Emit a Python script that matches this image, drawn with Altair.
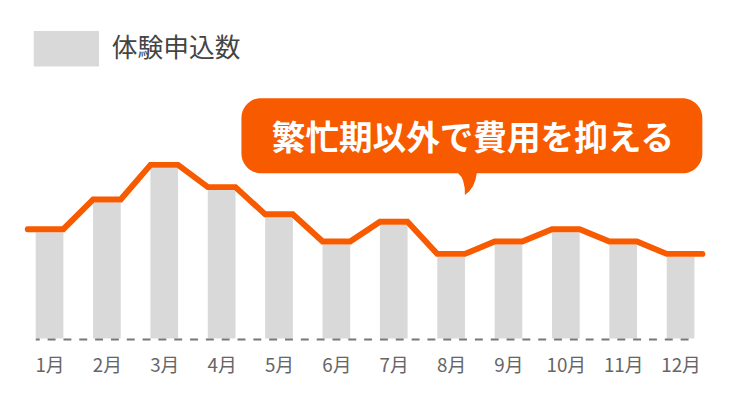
import altair as alt
import pandas as pd

# ---- data ----
months = [1, 2, 3, 4, 5, 6, 7, 8, 9, 10, 11, 12]
month_labels = ["1月", "2月", "3月", "4月", "5月", "6月", "7月", "8月", "9月", "10月", "11月", "12月"]
values = [43, 55, 69, 60, 49, 38, 46, 33, 38, 43, 38, 33]
series_name = "体験申込数"
callout_text = "繁忙期以外で費用を抑える"

FONT = "Noto Sans CJK JP"
ORANGE = "#F85A00"
GRAY_BAR = "#D9D9D9"

BAR_HALF = 0.24   # half bar width in month units
LEAD = 0.14       # line extension beyond first/last bar

bars_df = pd.DataFrame({"month": months, "value": values,
                        "series": [series_name] * len(months)})

pts = []
n = len(months)
for i, (m, v) in enumerate(zip(months, values)):
    left = m - BAR_HALF - (LEAD if i == 0 else 0)
    right = m + BAR_HALF + (LEAD if i == n - 1 else 0)
    pts.append({"order": 2 * i, "x": left, "value": v})
    pts.append({"order": 2 * i + 1, "x": right, "value": v})
line_df = pd.DataFrame(pts)

base_df = pd.DataFrame({"x0": [months[0] - BAR_HALF], "x1": [months[-1] + BAR_HALF], "y": [0]})

xscale = alt.Scale(domain=[0.5, 12.5], nice=False, zero=False, padding=0)
yscale = alt.Scale(domain=[0, 132.8], nice=False, zero=True, padding=0)

label_expr = "[" + ",".join(f"'{l}'" for l in month_labels) + "][datum.value - 1]"
xaxis = alt.Axis(values=months, labelExpr=label_expr, domain=False, ticks=False, grid=False,
                 labelPadding=18, labelFontSize=19, labelColor="#666666", labelFont=FONT,
                 title=None)

LEGEND_SYMBOL = "M-1,-0.545H1V0.545H-1Z"

bars = alt.Chart(bars_df).mark_bar(size=28).encode(
    x=alt.X("month:Q", scale=xscale, axis=xaxis),
    y=alt.Y("value:Q", scale=yscale, axis=None),
    color=alt.Color("series:N", scale=alt.Scale(range=[GRAY_BAR]),
                    legend=alt.Legend(orient="none", legendX=13, legendY=6, title=None,
                                      symbolType=LEGEND_SYMBOL, symbolSize=4356,
                                      symbolStrokeWidth=0, symbolOpacity=1,
                                      labelFontSize=26, labelColor="#444444", labelFont=FONT,
                                      labelOffset=13, padding=0)),
)

baseline = alt.Chart(base_df).mark_rule(color="#777777", strokeWidth=2, strokeDash=[8, 8],
                                        strokeDashOffset=4, yOffset=1).encode(
    x=alt.X("x0:Q", scale=xscale, axis=xaxis),
    x2="x1:Q",
    y=alt.Y("y:Q", scale=yscale, axis=None),
)

line = alt.Chart(line_df).mark_line(color=ORANGE, strokeWidth=6, strokeCap="round",
                                    yOffset=-3).encode(
    x=alt.X("x:Q", scale=xscale, axis=xaxis),
    y=alt.Y("value:Q", scale=yscale, axis=None),
    order="order:Q",
)

callout_df = pd.DataFrame({"t": [callout_text]})

TAIL = "M-0.86,-1.4L0.86,-1.4L0.86,-1Q0.7,0.4,-0.23,1Q-0.2,-0.5,-0.86,-1Z"
tail = alt.Chart(callout_df).mark_point(shape=TAIL, size=484, filled=True, color=ORANGE,
                                        opacity=1, strokeWidth=0).encode(
    x=alt.value(451.5), y=alt.value(176))

bubble = alt.Chart(callout_df).mark_rect(cornerRadius=20, color=ORANGE).encode(
    x=alt.value(223), x2=alt.value(689), y=alt.value(89), y2=alt.value(165))

bubble_text = alt.Chart(callout_df).mark_text(font=FONT, fontSize=34, fontWeight="bold",
                                              color="white", align="center",
                                              baseline="middle").encode(
    text="t:N", x=alt.value(457), y=alt.value(131))

chart = alt.layer(bars, baseline, line, tail, bubble, bubble_text).properties(
    width=696, height=332,
    autosize=alt.AutoSizeParams(type="none"),
    padding={"left": 13, "top": 0, "right": 23, "bottom": 52},
).configure_view(stroke=None)

chart.save("out.html", embed_options={"renderer": "svg", "actions": False})
